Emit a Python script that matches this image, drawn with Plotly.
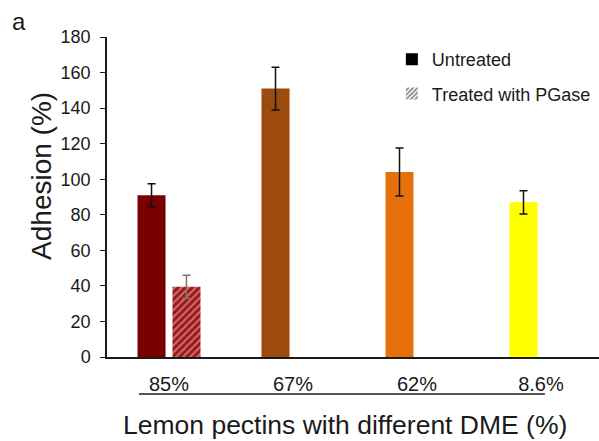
import plotly.graph_objects as go

# Pectin samples (degree of methyl esterification)
categories = ["85%", "67%", "62%", "8.6%"]

# Adhesion (%) for untreated pectins and their error bars
untreated = [91, 151, 104, 87]
untreated_err = [6.5, 12, 13.5, 6.5]

# Adhesion (%) after PGase treatment (only measured for 85%)
treated = [39.5, None, None, None]
treated_err = [6.5, 0, 0, 0]

bar_colors = ["#7A0000", "#9C4A0D", "#E8700C", "#FFFF00"]
font_family = "Liberation Sans, Arial, sans-serif"
ink = "#1a1a1a"

# bar width and offsets in category units (two slots per category)
bar_w = 0.226
off_u = -0.254
off_t = 0.028

fig = go.Figure()

fig.add_trace(go.Bar(
    x=categories, y=untreated, name="Untreated", showlegend=False,
    width=bar_w, offset=off_u,
    marker=dict(color=bar_colors, line=dict(width=0)),
    error_y=dict(type="data", array=untreated_err, color="#111111",
                 thickness=1.5, width=4),
))
fig.add_trace(go.Bar(
    x=categories, y=treated, name="Treated with PGase", showlegend=False,
    width=bar_w, offset=off_t,
    marker=dict(color="#A01818", line=dict(width=0),
                pattern=dict(shape="/", fgcolor="#F2D8D8", bgcolor="#A01818",
                             size=5, solidity=0.35)),
    error_y=dict(type="data", array=treated_err, color="#777777",
                 thickness=1.5, width=4),
))

# Legend entries drawn in black
fig.add_trace(go.Bar(
    x=[None], y=[None], name="Untreated", legendgroup="u",
    marker=dict(color="black", line=dict(width=0)),
))
fig.add_trace(go.Bar(
    x=[None], y=[None], name="Treated with PGase", legendgroup="t",
    marker=dict(color="white", line=dict(width=0),
                pattern=dict(shape="/", fgcolor="black", bgcolor="white",
                             size=4, solidity=0.5)),
))

fig.update_layout(
    width=599, height=441,
    margin=dict(l=107, r=0, t=37, b=84),
    paper_bgcolor="white", plot_bgcolor="white",
    barmode="overlay",
    font=dict(family=font_family, color=ink),
    legend=dict(x=0.579, y=0.9875, xanchor="left", yanchor="top",
                font=dict(size=18, color=ink), tracegroupgap=8,
                bgcolor="rgba(0,0,0,0)"),
    xaxis=dict(
        range=[-0.5, 3.468], showline=True, linecolor=ink, linewidth=1.5,
        ticks="", showgrid=False, zeroline=False,
        tickfont=dict(size=20, color=ink), ticklabelstandoff=8,
    ),
    yaxis=dict(
        range=[0, 180], dtick=20, showline=True, linecolor=ink, linewidth=1.5,
        ticks="outside", ticklen=5, tickcolor=ink, showgrid=False,
        zeroline=False, tickfont=dict(size=18, color=ink),
        ticklabelstandoff=6,
    ),
    shapes=[dict(type="line", xref="paper", yref="paper",
                 x0=0.065, x1=0.890, y0=-0.1156, y1=-0.1156,
                 line=dict(color=ink, width=1.5))],
    annotations=[
        dict(text="a", xref="paper", yref="paper",
             x=-0.179, y=1.047, xanchor="center", yanchor="middle",
             showarrow=False, font=dict(size=24, color=ink)),
        # axis titles
        dict(text="Lemon pectins with different DME (%)",
             xref="paper", yref="paper", x=0.484, y=-0.2125,
             xanchor="center", yanchor="middle", showarrow=False,
             borderpad=0, font=dict(size=26.5, color=ink)),
        dict(text="Adhesion (%)", textangle=-90,
             xref="paper", yref="paper", x=-0.132, y=0.566,
             xanchor="center", yanchor="middle", showarrow=False,
             font=dict(size=28, color=ink)),
    ],
)

fig.write_html("out.html")
